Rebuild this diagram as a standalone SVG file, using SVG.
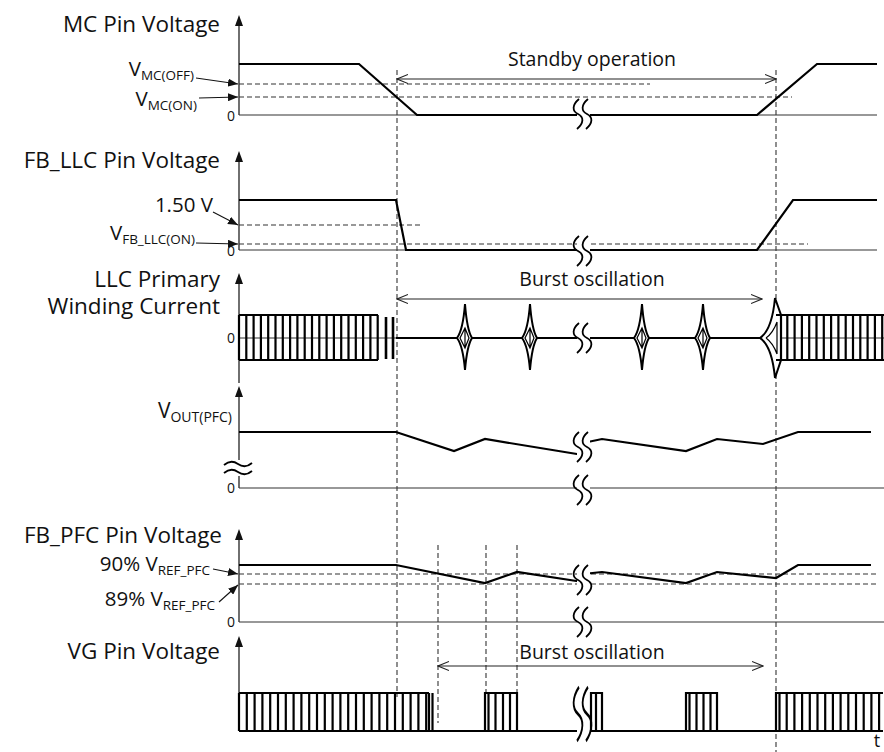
<svg xmlns="http://www.w3.org/2000/svg" xmlns:xlink="http://www.w3.org/1999/xlink" width="884" height="752" viewBox="0 0 884 752">
<style>
text{font-family:"Open Sans","Noto Sans","DejaVu Sans",sans-serif;fill:#111}
.lbl{font-size:22.5px;text-anchor:end}
.ann{font-size:19.5px;text-anchor:middle}
.v{font-size:20.5px;text-anchor:end}
.sub{font-size:13.5px}
.z{font-size:14px;text-anchor:end}
.axis{stroke:#222;stroke-width:1.3;fill:none}
.zero{stroke:#333;stroke-width:1.2;fill:none}
.sig{stroke:#000;stroke-width:2.2;fill:none;stroke-linejoin:miter}
.thin{stroke:#000;stroke-width:1.6;fill:none}
.dash{stroke:#333;stroke-width:1.1;stroke-dasharray:5,3;fill:none}
.lead{stroke:#111;stroke-width:1.1;fill:none;marker-end:url(#arr)}
.span{stroke:#222;stroke-width:1.1;fill:none;marker-start:url(#open);marker-end:url(#open)}
.dia{stroke:#000;stroke-width:2;fill:#fff}
.brk{stroke:#000;stroke-width:1.8;fill:none}
</style>
<defs>
<marker id="arr" viewBox="0 0 10 8" refX="10" refY="4" markerWidth="10" markerHeight="8" markerUnits="userSpaceOnUse" orient="auto"><path d="M0,0 L10,4 L0,8 Z" fill="#111"/></marker>
<marker id="open" viewBox="0 0 12 10" refX="11" refY="5" markerWidth="12" markerHeight="10" markerUnits="userSpaceOnUse" orient="auto-start-reverse"><path d="M0,0.5 L11,5 L0,9.5" fill="none" stroke="#222" stroke-width="1.1"/></marker>
<g id="brk">
<rect x="-5" y="-16" width="13" height="32" fill="#fff"/>
<path class="brk" d="M-3,-15 C-10,-9 -10,-3 -4,0 C2,3 2,9 -5,15"/>
<path class="brk" d="M6,-15 C-1,-9 -1,-3 5,0 C11,3 11,9 4,15"/>
</g>
</defs>

<!-- vertical dashed time markers -->
<g id="markers">
<path class="dash" d="M397,70 V697"/>
<path class="dash" d="M776,70 V752"/>
<path class="dash" d="M438,545 V723"/>
<path class="dash" d="M486,545 V693"/>
<path class="dash" d="M517,545 V693"/>
</g>

<!-- MC Pin Voltage -->
<g id="mc">
<text class="lbl" x="220" y="32">MC Pin Voltage</text>
<path class="axis" d="M239,24 V115"/>
<polygon points="239,15 235,26 243,26" fill="#111"/>
<path class="zero" d="M239,115 H877"/>
<path class="dash" d="M239,84 H650"/>
<path class="dash" d="M239,97 H792"/>
<path class="sig" d="M239,64 H359 L417,115 H583 M583,115 H757 L817,64 H877"/>
<use xlink:href="#brk" x="582" y="114"/>
<text class="v" x="194" y="76">V<tspan class="sub" dy="4">MC(OFF)</tspan></text>
<text class="v" x="197" y="106">V<tspan class="sub" dy="4">MC(ON)</tspan></text>
<path class="lead" d="M196,78 L238,84"/>
<path class="lead" d="M199,98 L238,97"/>
<text class="z" x="235" y="121">0</text>
<path class="span" d="M397,79 H776"/>
<text class="ann" x="592" y="66">Standby operation</text>
</g>

<!-- FB_LLC Pin Voltage -->
<g id="fbllc">
<text class="lbl" x="220" y="168">FB_LLC Pin Voltage</text>
<path class="axis" d="M239,160 V250"/>
<polygon points="239,151 235,162 243,162" fill="#111"/>
<path class="zero" d="M239,250 H877"/>
<path class="dash" d="M239,225 H420"/>
<path class="dash" d="M239,244 H808"/>
<path class="sig" d="M239,200 H396 L406,250 H583 M583,250 H757 L793,200 H877"/>
<use xlink:href="#brk" x="582" y="251"/>
<text class="v" x="213" y="212">1.50 V</text>
<text class="v" x="195" y="240">V<tspan class="sub" dy="4">FB_LLC(ON)</tspan></text>
<path class="lead" d="M213,212 L238,225"/>
<path class="lead" d="M196,243 L238,244"/>
<text class="z" x="235" y="256">0</text>
</g>

<!-- LLC Primary Winding Current -->
<g id="llc">
<text class="lbl" x="220" y="287">LLC Primary</text>
<text class="lbl" x="220" y="314">Winding Current</text>
<path class="axis" d="M239,282 V383"/>
<polygon points="239,273 235,284 243,284" fill="#111"/>
<path class="zero" d="M239,338 H884"/>
<path class="sig" d="M239,315 H378 M239,360 H378 M239,315 V360 M246.3,315 V360 M253.6,315 V360 M260.9,315 V360 M268.2,315 V360 M275.5,315 V360 M282.8,315 V360 M290.1,315 V360 M297.4,315 V360 M304.7,315 V360 M312,315 V360 M319.3,315 V360 M326.6,315 V360 M333.9,315 V360 M341.2,315 V360 M348.5,315 V360 M355.8,315 V360 M363.1,315 V360 M370.4,315 V360 M377.7,315 V360"/>
<path class="sig" style="stroke-width:2.6" d="M386,317 V359 M393,317 V359"/>
<path class="sig" d="M396,338 H583 M583,338 H760"/>
<path class="dia" d="M465,304 Q463,330 457,338 Q463,346 465,370 Q467,346 472,338 Q467,330 465,304 Z"/>
<path class="thin" style="stroke-width:1.2" d="M460,338 L465,328 L469,338 L465,348 Z M465,328 V348"/>
<path class="dia" d="M530,304 Q528,330 522,338 Q528,346 530,370 Q532,346 537,338 Q532,330 530,304 Z"/>
<path class="thin" style="stroke-width:1.2" d="M525,338 L530,328 L534,338 L530,348 Z M530,328 V348"/>
<path class="dia" d="M642,304 Q640,330 634,338 Q640,346 642,370 Q644,346 649,338 Q644,330 642,304 Z"/>
<path class="thin" style="stroke-width:1.2" d="M637,338 L642,328 L646,338 L642,348 Z M642,328 V348"/>
<path class="dia" d="M703,304 Q701,330 695,338 Q701,346 703,370 Q705,346 710,338 Q705,330 703,304 Z"/>
<path class="thin" style="stroke-width:1.2" d="M698,338 L703,328 L707,338 L703,348 Z M703,328 V348"/>
<path class="dia" d="M760,338 Q772,330 775,298 L781,315 V360 L775,378 Q772,346 760,338 Z"/>
<path class="thin" style="stroke-width:1.2" d="M766,338 Q773,333 777,322 M766,338 Q773,343 777,354 M777,322 V354"/>
<path class="sig" d="M776,315 H884 M776,360 H884 M781,315 V360 M787.3,315 V360 M794.6,315 V360 M801.9,315 V360 M809.2,315 V360 M816.5,315 V360 M823.8,315 V360 M831.1,315 V360 M838.4,315 V360 M845.7,315 V360 M853,315 V360 M860.3,315 V360 M867.6,315 V360 M874.9,315 V360 M882.2,315 V360"/>
<use xlink:href="#brk" x="582" y="338"/>
<text class="z" x="235" y="343">0</text>
<path class="span" d="M397,299 H762"/>
<text class="ann" x="592" y="286">Burst oscillation</text>
</g>

<!-- VOUT(PFC) -->
<g id="vout">
<text class="v" x="232" y="418" style="font-size:21px">V<tspan class="sub" dy="4" style="font-size:14px">OUT(PFC)</tspan></text>
<path class="axis" d="M239,395 V488"/>
<polygon points="239,386 235,397 243,397" fill="#111"/>
<rect x="224" y="460" width="29" height="16" fill="#fff"/>
<path class="brk" d="M224,465 Q231,459 238,464 Q245,469 252,463 M224,473 Q231,467 238,472 Q245,477 252,471"/>
<path class="zero" d="M239,488 H884"/>
<path class="sig" d="M239,432 H396 L454,451 L485,439 L583,455 M583,443 L602,439 L686,451 L717,439 L763,444 L798,432 H871"/>
<use xlink:href="#brk" x="582" y="447"/>
<use xlink:href="#brk" x="582" y="490"/>
<text class="z" x="235" y="493">0</text>
</g>

<!-- FB_PFC Pin Voltage -->
<g id="fbpfc">
<text class="lbl" x="222" y="543">FB_PFC Pin Voltage</text>
<path class="axis" d="M239,538 V622"/>
<polygon points="239,529 235,540 243,540" fill="#111"/>
<path class="zero" d="M239,622 H884"/>
<path class="dash" d="M239,574 H877"/>
<path class="dash" d="M239,584 H877"/>
<path class="sig" d="M239,565 H396 L485,583 L517,572 L583,582 M583,574 L602,572 L686,583 L717,572 L776,578 L798,565 H871"/>
<use xlink:href="#brk" x="582" y="580"/>
<use xlink:href="#brk" x="582" y="622"/>
<text class="v" x="210" y="571">90% V<tspan class="sub" dy="4">REF_PFC</tspan></text>
<text class="v" x="215" y="606">89% V<tspan class="sub" dy="4">REF_PFC</tspan></text>
<path class="lead" d="M213,569 L238,574"/>
<path class="lead" d="M219,602 L238,585"/>
<text class="z" x="235" y="627">0</text>
</g>

<!-- VG Pin Voltage -->
<g id="vg">
<text class="lbl" x="220" y="659">VG Pin Voltage</text>
<path class="axis" d="M239,645 V731"/>
<polygon points="239,636 235,647 243,647" fill="#111"/>
<path class="sig" d="M239,693 H429 M239,693 V731 M246.8,693 V731 M254.6,693 V731 M262.4,693 V731 M270.2,693 V731 M278,693 V731 M285.8,693 V731 M293.6,693 V731 M301.4,693 V731 M309.2,693 V731 M317,693 V731 M324.8,693 V731 M332.6,693 V731 M340.4,693 V731 M348.2,693 V731 M356,693 V731 M363.8,693 V731 M371.6,693 V731 M379.4,693 V731 M387.2,693 V731 M395,693 V731 M402.8,693 V731 M410.6,693 V731 M418.4,693 V731 M426.2,693 V731 M429,693 V731 M432.5,693 V731"/>
<path class="sig" d="M239,731 H583 M583,731 H883"/>
<path class="sig" d="M485,731 V693 H517 V731 M488.5,693 V731 M495.5,693 V731 M503,693 V731 M510,693 V731"/>
<path class="sig" d="M686,731 V693 H717 V731 M689.5,693 V731 M696.5,693 V731 M703.5,693 V731 M710.5,693 V731"/>
<path class="sig" d="M776,731 V693 H883 M779.5,693 V731 M786.7,693 V731 M794.4,693 V731 M802.1,693 V731 M809.8,693 V731 M817.5,693 V731 M825.2,693 V731 M832.9,693 V731 M840.6,693 V731 M848.3,693 V731 M856,693 V731 M863.7,693 V731 M871.4,693 V731 M879.1,693 V731"/>
<use xlink:href="#brk" transform="translate(582,714) scale(1,1.8)"/>
<path class="sig" d="M591,731 V693 H602 V731 M596,693 V731"/>
<path class="span" d="M438,666 H763"/>
<text class="ann" x="592" y="659">Burst oscillation</text>
<text x="877" y="747" style="font-size:18px;text-anchor:middle">t</text>
</g>
</svg>
